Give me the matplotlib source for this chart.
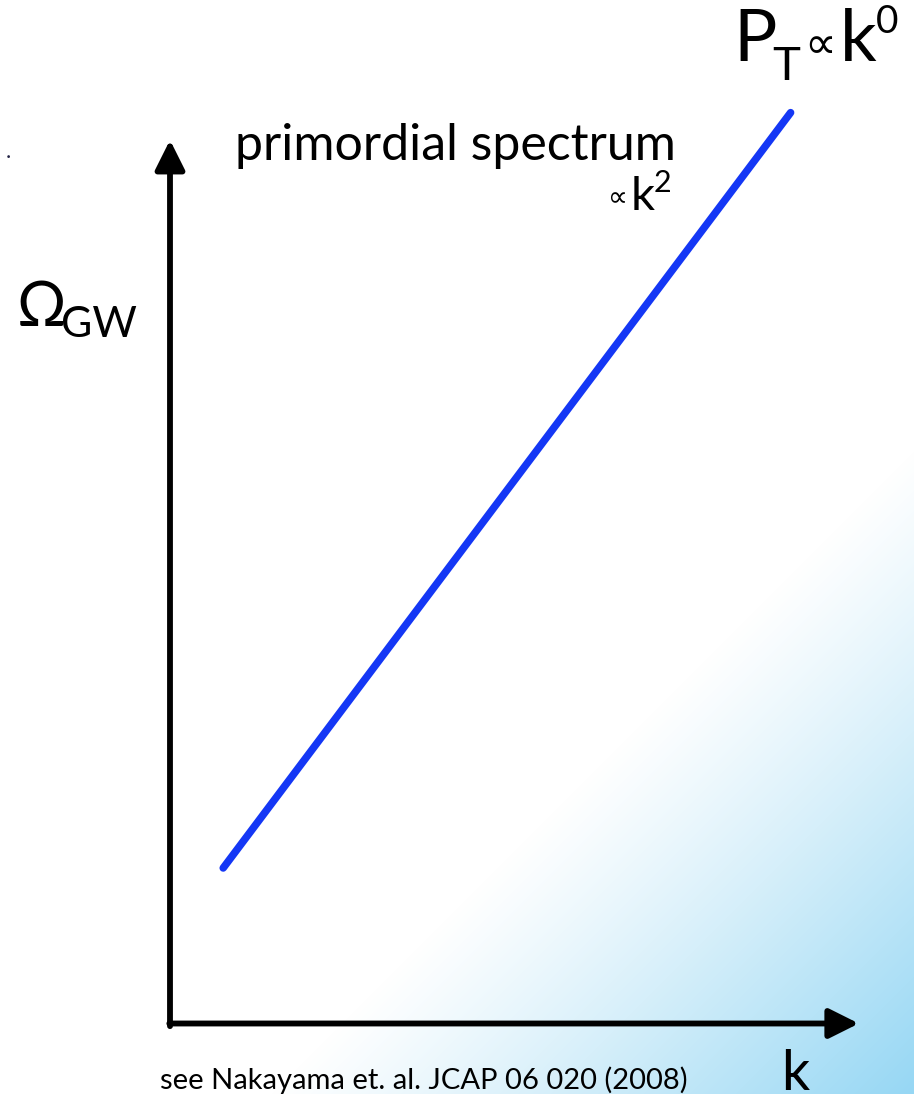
import numpy as np
import matplotlib.pyplot as plt
import matplotlib.colors as mcolors

plt.rcParams['font.family'] = ['Lato', 'DejaVu Sans']

# Schematic spectrum (arbitrary log units, axes span 0..1)
log_k = [0.078, 0.910]
log_omega = [0.176, 1.031]

axis_label_y = 'Ω'
axis_label_y_sub = 'GW'
axis_label_x = 'k'
title_text = 'primordial spectrum'
slope_text = ('∝', 'k', '2')
tensor_text = ('P', 'T', '∝', 'k', '0')
ref_text = 'see Nakayama et. al. JCAP 06 020 (2008)'

W, H = 914, 1094
fig = plt.figure(figsize=(W / 100, H / 100), dpi=100)


def px(x, y):
    return x / W, 1 - y / H


# Background gradient: white to light blue towards the bottom-right corner
bg = fig.add_axes([0, 0, 1, 1])
xx, yy = np.meshgrid(np.arange(W), np.arange(H))
t = np.clip((xx + yy - 1360) / (2008 - 1360), 0, 1)
t = t ** 1.1
cmap = mcolors.LinearSegmentedColormap.from_list(
    'bg', [(0, '#ffffff'), (0.4, '#d6effa'), (1, '#96d7f4')])
bg.imshow(t, cmap=cmap, aspect='auto', extent=[0, W, H, 0], vmin=0, vmax=1)
bg.set_xlim(0, W)
bg.set_ylim(H, 0)
bg.axis('off')

# Main axes area between the two arrows
l, b = px(170, 1023.5)
r, tp = px(852, 140)
ax = fig.add_axes([l, b, r - l, tp - b])
ax.set_xlim(0, 1)
ax.set_ylim(0, 1)
ax.axis('off')
ax.patch.set_alpha(0)

arrow_kw = dict(arrowstyle='-|>,head_length=0.9,head_width=0.45', lw=4.2, color='black',
                mutation_scale=20, shrinkA=0, shrinkB=0)
ax.annotate('', xy=(0, 1.0), xytext=(0, -0.003), xycoords='axes fraction',
            arrowprops=arrow_kw, annotation_clip=False)
ax.annotate('', xy=(1.01, 0), xytext=(-0.001, 0), xycoords='axes fraction',
            arrowprops=arrow_kw, annotation_clip=False)

ax.plot(log_k, log_omega, color='#1437f5', lw=5.4, solid_capstyle='round', clip_on=False)

# Labels
fig.text(*px(17, 326), axis_label_y, fontsize=44, va='baseline', ha='left')
fig.text(*px(61, 337), axis_label_y_sub, fontsize=31, va='baseline', ha='left')
fig.text(*px(781, 1090), axis_label_x, fontsize=40, va='baseline', ha='left')
fig.text(*px(235, 160), title_text, fontsize=36, va='baseline', ha='left')

fig.text(*px(608, 206), slope_text[0], fontsize=20, va='baseline', ha='left')
fig.text(*px(631, 210), slope_text[1], fontsize=34, va='baseline', ha='left')
fig.text(*px(654, 192), slope_text[2], fontsize=22, va='baseline', ha='left')

fig.text(*px(733, 61), tensor_text[0], fontsize=52, va='baseline', ha='left')
fig.text(*px(772, 80), tensor_text[1], fontsize=34, va='baseline', ha='left')
fig.text(*px(804, 58), tensor_text[2], fontsize=32, va='baseline', ha='left')
fig.text(*px(840, 61), tensor_text[3], fontsize=52, va='baseline', ha='left')
fig.text(*px(876, 33), tensor_text[4], fontsize=28, va='baseline', ha='left')

fig.text(*px(160, 1089), ref_text, fontsize=21, va='baseline', ha='left')

# stray dot at the left edge
fig.text(*px(8, 158), '.', fontsize=16, color='#222244', ha='center', va='baseline')

fig.savefig('out.png', dpi=100)
